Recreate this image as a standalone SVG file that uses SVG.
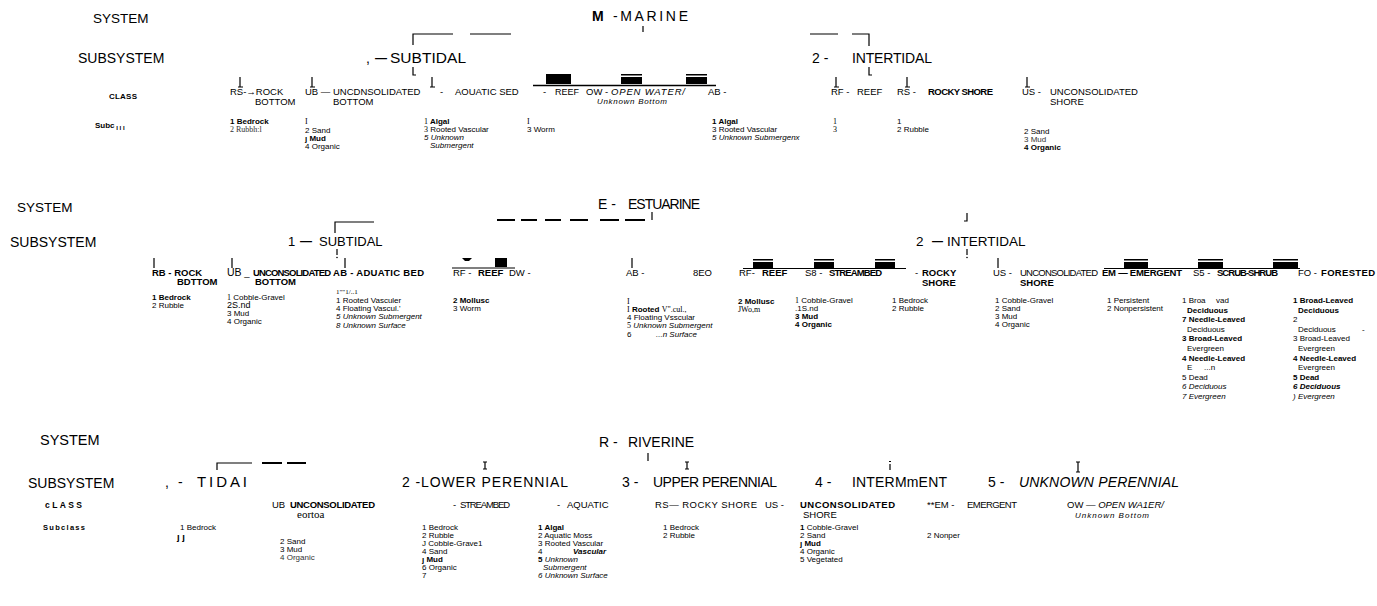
<svg xmlns="http://www.w3.org/2000/svg" width="1377" height="606" viewBox="0 0 1377 606">
<style>
text{font-family:"Liberation Sans",Arial,sans-serif;fill:#000}
.sys{font-size:14px}
.cl{font-size:9.5px}
.sc{font-size:8px}
.b{font-weight:bold}
.i{font-style:italic}
.sf{font-family:"Liberation Serif","Times New Roman",serif}
.g{fill:#333}
.ln{stroke:#000;stroke-width:1.2;fill:none}
.dl{stroke:#000;stroke-width:2;fill:none}
.bar{fill:#000}
</style>
<rect width="1377" height="606" fill="#fff"/>

<!-- ================= MARINE ================= -->
<g id="m-rowlabels">
  <text class="sys" x="93" y="23" style="font-size:13.5px">SYSTEM</text>
  <text class="sys" x="78" y="63">SUBSYSTEM</text>
  <text class="sc b" x="109" y="99" textLength="28">CLASS</text>
  <text class="sc b" x="95" y="128">Subc<tspan style="font-size:6px" dy="2"> I I I</tspan></text>
</g>
<g id="m-system"><text class="sys" x="592" y="21" textLength="96"><tspan class="b">M</tspan> -MARINE</text></g>
<g id="m-subtidal">
  <text class="sys" x="366" y="63">,</text>
  <text class="sys b" x="375" y="62" style="font-size:12px">—</text>
  <text class="sys" x="390" y="63" style="font-size:15.5px" textLength="76">SUBTIDAL</text>
</g>
<g id="m-intertidal">
  <text class="sys" x="812" y="63">2 -</text>
  <text class="sys" x="852" y="63" textLength="80">INTERTIDAL</text>
</g>
<g id="m-rb">
  <text class="cl" x="230" y="95">RS-→ROCK</text>
  <text class="cl" x="255" y="105">BOTTOM</text>
  <text class="sc b" x="230" y="124">1 Bedrock</text>
  <text class="sc sf g" x="230" y="132">2 Rubbh:l</text>
</g>
<g id="m-ub">
  <text class="cl" x="305" y="95">UB — UNCDNSOLIDATED</text>
  <text class="cl" x="333" y="105">BOTTOM</text>
  <text class="sc sf" x="305" y="124">I</text>
  <text class="sc" x="305" y="133">2 Sand</text>
  <text class="sc b" x="305" y="141">ȷ Mud</text>
  <text class="sc" x="305" y="149">4 Organic</text>
</g>
<g id="m-ab">
  <text class="cl" x="440" y="95">-</text>
  <text class="cl" x="455" y="95">AOUATIC SED</text>
  <text class="sc b" x="424" y="124"><tspan class="sf" style="font-weight:normal">1</tspan> Algal</text>
  <text class="sc" x="424" y="132"><tspan class="sf">3</tspan> Rooted Vascular</text>
  <text class="sc i" x="424" y="140">5 Unknown</text>
  <text class="sc i" x="430" y="148">Submergent</text>
</g>
<g id="m-reef-ow">
  <text class="cl" x="543" y="95">-</text>
  <text class="cl" x="555" y="95" style="font-size:9px">REEF</text>
  <text class="cl" x="586" y="95">OW -</text>
  <text class="cl i" x="611" y="95" textLength="74">OPEN WATER/</text>
  <text class="sc i" x="597" y="104" textLength="70">Unknown Bottom</text>
  <text class="sc sf" x="527" y="124">I</text>
  <text class="sc" x="527" y="132">3 Worm</text>
</g>
<g id="m-ab2">
  <text class="cl" x="708" y="95">AB -</text>
  <text class="sc b" x="712" y="124">1 Algal</text>
  <text class="sc" x="712" y="132">3 Rooted Vascular</text>
  <text class="sc i" x="712" y="140">5 Unknown Submergenx</text>
</g>
<g id="m-rf">
  <text class="cl" x="831" y="95">RF -</text>
  <text class="cl" x="857" y="95">REEF</text>
  <text class="sc sf" x="833" y="124">1</text>
  <text class="sc sf" x="833" y="132">3</text>
</g>
<g id="m-rs">
  <text class="cl" x="897" y="95">RS -</text>
  <text class="cl b" x="928" y="95" textLength="65">ROCKY SHORE</text>
  <text class="sc" x="897" y="124">1</text>
  <text class="sc" x="897" y="132">2 Rubble</text>
</g>
<g id="m-us">
  <text class="cl" x="1022" y="95">US -</text>
  <text class="cl" x="1050" y="95">UNCONSOLIDATED</text>
  <text class="cl" x="1050" y="105">SHORE</text>
  <text class="sc" x="1024" y="134">2 Sand</text>
  <text class="sc g" x="1024" y="142">3 Mud</text>
  <text class="sc b" x="1024" y="150">4 Organic</text>
</g>
<g id="m-connectors">
  <path class="ln" d="M643,26V32"/>
  <path class="ln" d="M413,45V34H453M470,34H511M810,34H838M852,34H869V46"/>
  <path class="ln" d="M413,67V75H416M869,67V75H872"/>
  <path class="ln" d="M240,77V87M238,87H243M312,77V87M310,87H315M432,77V87M430,87H435"/>
  <path class="ln" d="M836,77V87M834,87H839M907,77V87M905,87H910M1027,77V87M1025,87H1030"/>
  <rect class="bar" x="546" y="74" width="25" height="10"/>
  <rect class="bar" x="621" y="74" width="21" height="1.5"/>
  <rect class="bar" x="621" y="77" width="21" height="7"/>
  <rect class="bar" x="686" y="74" width="21" height="1.5"/>
  <rect class="bar" x="686" y="77" width="21" height="7"/>
  <path class="ln" style="stroke-width:1.5" d="M533,85.5H716"/>
</g>

<!-- ================= ESTUARINE ================= -->
<g id="e-rowlabels">
  <text class="sys" x="17" y="212" style="font-size:13.5px">SYSTEM</text>
  <text class="sys" x="10" y="247">SUBSYSTEM</text>
</g>
<g id="e-system">
  <text class="sys" x="598" y="209">E -</text>
  <text class="sys" x="628" y="209" textLength="72">ESTUARINE</text>
</g>
<g id="e-subtidal">
  <text class="sys" x="288" y="246" style="font-size:13px">1</text>
  <text class="sys b" x="300" y="245" style="font-size:12px">—</text>
  <text class="sys" x="319" y="246" style="font-size:13px">SUBTIDAL</text>
</g>
<g id="e-intertidal">
  <text class="sys" x="916" y="246" style="font-size:13.5px">2</text>
  <text class="sys b" x="932" y="245" style="font-size:11px">—</text>
  <text class="sys" x="947" y="246" style="font-size:13.5px">INTERTIDAL</text>
</g>
<g id="e-rb">
  <text class="cl b" x="152" y="276">RB - ROCK</text>
  <text class="cl b" x="177" y="285">BDTTOM</text>
  <text class="sc b" x="152" y="300">1 Bedrock</text>
  <text class="sc" x="152" y="308">2 Rubble</text>
</g>
<g id="e-ub">
  <text class="cl" x="227" y="276"><tspan style="font-size:10.5px">UB</tspan> _</text>
  <text class="cl b" x="253" y="276" textLength="78">UNCONSOLIDATED</text>
  <text class="cl b" x="255" y="285">BOTTOM</text>
  <text class="sc" x="227" y="300"><tspan class="sf">1</tspan> Cobble-Gravel</text>
  <text class="sc" x="227" y="308" style="font-size:9px">2S.nd</text>
  <text class="sc" x="227" y="316">3 Mud</text>
  <text class="sc" x="227" y="324">4 Organic</text>
</g>
<g id="e-ab">
  <text class="cl b" x="333" y="276" textLength="91">AB - ADUATIC BED</text>
  <text class="sc sf" x="336" y="294" style="font-size:7px">1""1/..1</text>
  <text class="sc" x="336" y="303">1 Rooted Vasculer</text>
  <text class="sc" x="336" y="311">4 Floating Vascul.'</text>
  <text class="sc i" x="336" y="319">5 Unknown Submergent</text>
  <text class="sc i" x="336" y="328">8 Unknown Surface</text>
</g>
<g id="e-rf-ow">
  <text class="cl" x="453" y="276">RF -</text>
  <text class="cl b" x="478" y="276">REEF</text>
  <text class="cl" x="509" y="276">DW -</text>
  <text class="sc b" x="453" y="303">2 Mollusc</text>
  <text class="sc" x="453" y="311">3 Worm</text>
</g>
<g id="e-ab2">
  <text class="cl" x="626" y="276">AB -</text>
  <text class="cl" x="693" y="276">8EO</text>
  <text class="sc sf" x="627" y="304">I</text>
  <text class="sc" x="627" y="312"><tspan class="sf">I</tspan> <tspan class="b">Rooted</tspan> <tspan class="sf">V".cul.,</tspan></text>
  <text class="sc" x="627" y="320">4 Floating Vsscular</text>
  <text class="sc i" x="627" y="328"><tspan class="sf" style="font-style:normal">5</tspan> Unknown Submergent</text>
  <text class="sc i" x="627" y="337"><tspan style="font-style:normal">6</tspan><tspan x="656">...n Surface</tspan></text>
</g>
<g id="e-rf2">
  <text class="cl" x="739" y="276">RF-</text>
  <text class="cl b" x="762" y="276">REEF</text>
  <text class="sc b" x="738" y="304">2 Mollusc</text>
  <text class="sc sf" x="738" y="312">JWo,m</text>
</g>
<g id="e-sb">
  <text class="cl" x="805" y="276">S8 -</text>
  <text class="cl b" x="829" y="276" textLength="53">STREAMBED</text>
  <text class="sc" x="795" y="303"><tspan class="sf">1</tspan> Cobble-Gravel</text>
  <text class="sc" x="795" y="311">.1S.nd</text>
  <text class="sc b" x="795" y="319">3 Mud</text>
  <text class="sc b" x="795" y="327">4 Organic</text>
</g>
<g id="e-rs">
  <text class="cl" x="915" y="276">-</text>
  <text class="cl b" x="922" y="276">ROCKY</text>
  <text class="cl b" x="922" y="286">SHORE</text>
  <text class="sc" x="892" y="303">1 Bedrock</text>
  <text class="sc" x="892" y="311">2 Rubble</text>
</g>
<g id="e-us">
  <text class="cl" x="993" y="276">US -</text>
  <text class="cl" x="1020" y="276" textLength="78">UNCONSOLIDATED</text>
  <text class="cl b" x="1020" y="286">SHORE</text>
  <text class="sc" x="995" y="303">1 Cobble-Gravel</text>
  <text class="sc" x="995" y="311">2 Sand</text>
  <text class="sc" x="995" y="319">3 Mud</text>
  <text class="sc" x="995" y="327">4 Organic</text>
</g>
<g id="e-em">
  <text class="cl b" x="1102" y="276" textLength="80">EM — EMERGENT</text>
  <text class="sc" x="1107" y="303">1 Persistent</text>
  <text class="sc" x="1107" y="311">2 Nonpersistent</text>
</g>
<g id="e-ss">
  <text class="cl" x="1193" y="276">S5 -</text>
  <text class="cl b" x="1217" y="276" textLength="61">SCRUB-SHRUB</text>
  <text class="sc" x="1182" y="303">1 Broa<tspan x="1216">vad</tspan></text>
  <text class="sc b" x="1187" y="313">Deciduous</text>
  <text class="sc b" x="1182" y="322">7 Needle-Leaved</text>
  <text class="sc" x="1187" y="332">Deciduous</text>
  <text class="sc b" x="1182" y="341">3 Broad-Leaved</text>
  <text class="sc" x="1187" y="351">Evergreen</text>
  <text class="sc b" x="1182" y="361">4 Needle-Leaved</text>
  <text class="sc" x="1187" y="370">E<tspan x="1204">...n</tspan></text>
  <text class="sc" x="1182" y="380">5 Dead</text>
  <text class="sc i" x="1182" y="389">6 Deciduous</text>
  <text class="sc i" x="1182" y="399">7 Evergreen</text>
</g>
<g id="e-fo">
  <text class="cl" x="1298" y="276">FO -</text>
  <text class="cl b" x="1321" y="276" textLength="54">FORESTED</text>
  <text class="sc b" x="1293" y="303">1 Broad-Leaved</text>
  <text class="sc b" x="1298" y="313">Deciduous</text>
  <text class="sc" x="1293" y="322">2</text>
  <text class="sc" x="1298" y="332">Deciduous<tspan x="1362">-</tspan></text>
  <text class="sc" x="1293" y="341">3 Broad-Leaved</text>
  <text class="sc" x="1298" y="351">Evergreen</text>
  <text class="sc b" x="1293" y="361">4 Needle-Leaved</text>
  <text class="sc" x="1298" y="370">Evergreen</text>
  <text class="sc b" x="1293" y="380">5 Dead</text>
  <text class="sc b i" x="1293" y="389">6 Deciduous</text>
  <text class="sc i" x="1293" y="399">) Evergreen</text>
</g>
<g id="e-connectors">
  <path class="dl" d="M497,220H515M521,220H537M545,220H561M570,220H588M600,220H619M625,220H645"/>
  <path class="ln" d="M652,212V220"/>
  <path class="ln" d="M335,233V222H374"/>
  <path class="ln" d="M337,249V255M967,249V255"/>
  <circle cx="337" cy="257.5" r="0.8"/>
  <circle cx="967" cy="257.5" r="0.8"/>
  <path class="ln" d="M967,213V221H964"/>
  <path class="ln" d="M154,258V268M232,258V268M345,258V268M632,258V268M998,258V268"/>
  <path class="bar" d="M462,258H472L469,261H465Z"/>
  <rect class="bar" x="495" y="258" width="12" height="9"/>
  <path class="ln" d="M452,268H515"/>
  <rect class="bar" x="753" y="259" width="20" height="1.5"/>
  <rect class="bar" x="753" y="262" width="20" height="6"/>
  <rect class="bar" x="814" y="259" width="20" height="1.5"/>
  <rect class="bar" x="814" y="262" width="20" height="6"/>
  <rect class="bar" x="875" y="259" width="20" height="1.5"/>
  <rect class="bar" x="875" y="262" width="20" height="6"/>
  <path class="ln" d="M743,268.5H906"/>
  <rect class="bar" x="1124" y="259" width="24" height="1.5"/>
  <rect class="bar" x="1124" y="262" width="24" height="6"/>
  <rect class="bar" x="1198" y="259" width="25" height="1.5"/>
  <rect class="bar" x="1198" y="262" width="25" height="6"/>
  <rect class="bar" x="1273" y="259" width="25" height="1.5"/>
  <rect class="bar" x="1273" y="262" width="25" height="6"/>
  <path class="ln" d="M1104,268.5H1300"/>
</g>

<!-- ================= RIVERINE ================= -->
<g id="r-rowlabels">
  <text class="sys" x="40" y="445" style="font-size:14.5px">SYSTEM</text>
  <text class="sys" x="28" y="488">SUBSYSTEM</text>
  <text class="b" x="45" y="508" style="font-size:8.5px" textLength="37">cLASS</text>
  <text class="b" x="43" y="530" style="font-size:7.5px" textLength="42">Subclass</text>
</g>
<g id="r-system">
  <text class="sys" x="599" y="447">R -</text>
  <text class="sys" x="628" y="447">RIVERINE</text>
</g>
<g id="r-tidal">
  <text class="sys" x="165" y="487">,</text>
  <text class="sys" x="178" y="487">-</text>
  <text class="sys" x="197" y="487" style="font-size:15px" textLength="50">TIDAI</text>
</g>
<g id="r-lower"><text class="sys" x="402" y="487" textLength="166">2 -LOWER PERENNIAL</text></g>
<g id="r-upper">
  <text class="sys" x="622" y="487">3 -</text>
  <text class="sys" x="653" y="487" textLength="124">UPPER PERENNIAL</text>
</g>
<g id="r-intermittent">
  <text class="sys" x="815" y="487">4 -</text>
  <text class="sys" x="852" y="487" textLength="95">INTERMmENT</text>
</g>
<g id="r-unknown">
  <text class="sys" x="988" y="487">5 -</text>
  <text class="sys i" x="1019" y="487" textLength="160">UNKNOWN PERENNIAL</text>
</g>
<g id="r-tidal-sub">
  <text class="sc" x="180" y="530">1 Bedrock</text>
  <text class="sc b" x="177" y="540" style="font-size:9.5px">ȷ ȷ</text>
</g>
<g id="r-ub">
  <text class="cl" x="272" y="508">UB</text>
  <text class="cl b" x="290" y="508" textLength="85">UNCONSOLIDATED</text>
  <text class="sf" x="297" y="518" style="font-size:11px">eortoa</text>
  <text class="sc" x="280" y="544">2 Sand</text>
  <text class="sc" x="280" y="552">3 Mud</text>
  <text class="sc g" x="280" y="560">4 Organic</text>
</g>
<g id="r-sb">
  <text class="cl" x="453" y="508">-</text>
  <text class="cl" x="460" y="508" textLength="50">STREAMBED</text>
  <text class="sc" x="422" y="530">1 Bedrock</text>
  <text class="sc" x="422" y="538">2 Rubble</text>
  <text class="sc" x="422" y="546">J Cobble-Grave1</text>
  <text class="sc" x="422" y="554">4 Sand</text>
  <text class="sc b" x="422" y="562">ȷ Mud</text>
  <text class="sc" x="422" y="570">6 Organic</text>
  <text class="sc" x="422" y="578">7</text>
</g>
<g id="r-ab">
  <text class="cl" x="557" y="508">-</text>
  <text class="cl" x="567" y="508">AQUATIC</text>
  <text class="sc b" x="538" y="530">1 Algal</text>
  <text class="sc" x="538" y="538">2 Aquatic Moss</text>
  <text class="sc" x="538" y="546">3 Rooted Vascular</text>
  <text class="sc" x="538" y="554">4<tspan x="573" class="i b">Vascular</tspan></text>
  <text class="sc i" x="538" y="562"><tspan class="b" style="font-style:normal">5</tspan> Unknown</text>
  <text class="sc i" x="543" y="570">Submergent</text>
  <text class="sc i" x="538" y="578">6 Unknown Surface</text>
</g>
<g id="r-rs">
  <text class="cl" x="655" y="508" textLength="102">RS— ROCKY SHORE</text>
  <text class="sc" x="663" y="530">1 Bedrock</text>
  <text class="sc" x="663" y="538">2 Rubble</text>
</g>
<g id="r-us">
  <text class="cl" x="765" y="508">US -</text>
  <text class="cl b" x="800" y="508" textLength="95">UNCONSOLIDATED</text>
  <text class="cl" x="803" y="518">SHORE</text>
  <text class="sc" x="800" y="530"><tspan class="b">1</tspan> Cobble-Gravel</text>
  <text class="sc" x="800" y="538">2 Sand</text>
  <text class="sc b" x="800" y="546">ȷ Mud</text>
  <text class="sc" x="800" y="554">4 Organic</text>
  <text class="sc" x="800" y="562">5 Vegetated</text>
</g>
<g id="r-em">
  <text class="cl" x="927" y="508">**EM -</text>
  <text class="cl" x="967" y="508" textLength="50">EMERGENT</text>
  <text class="sc" x="927" y="538">2 Nonper</text>
</g>
<g id="r-ow">
  <text class="cl" x="1067" y="508">OW — <tspan class="i">OPEN WA1ER/</tspan></text>
  <text class="sc i" x="1075" y="518" textLength="74">Unknown Bottom</text>
</g>
<g id="r-connectors">
  <path class="ln" d="M648,453V461"/>
  <path class="ln" d="M217,470V463H252"/>
  <path class="dl" d="M262,463H282M287,463H306"/>
  <path class="ln" d="M485,462V469M483,462H487M483,469H487"/>
  <path class="ln" d="M687,462V469M685,462H689M685,469H689"/>
  <path class="ln" d="M890,464V470M889,461.5H891"/>
  <path class="ln" d="M1078,462V472M1076,462H1080M1076,472H1080"/>
</g>
</svg>
